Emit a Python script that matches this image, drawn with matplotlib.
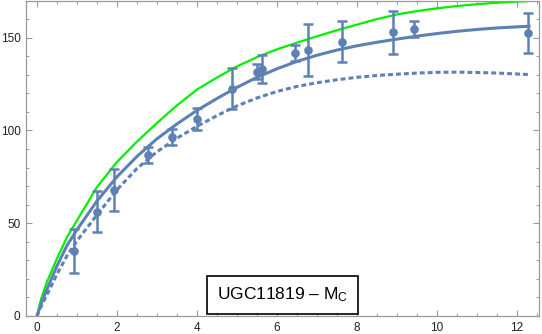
import matplotlib
matplotlib.use("Agg")
import matplotlib.pyplot as plt
from matplotlib.ticker import MultipleLocator

plt.rcParams['font.family'] = ['Liberation Sans', 'DejaVu Sans']
plt.rcParams['mathtext.fontset'] = 'custom'
plt.rcParams['mathtext.rm'] = 'Liberation Sans'
plt.rcParams['mathtext.it'] = 'Liberation Sans'

# observed data
r_obs = [0.925, 1.51, 1.92, 2.77, 3.37, 4.0, 4.88, 5.49, 5.62, 6.45, 6.78, 7.62, 8.91, 9.43, 12.28]
v_obs = [35.0, 56.3, 67.9, 86.8, 96.5, 106.0, 122.4, 131.7, 133.2, 141.6, 143.5, 147.8, 152.9, 154.7, 152.5]
v_err = [12.0, 10.8, 11.5, 4.3, 4.5, 6.0, 11.0, 4.2, 7.4, 4.3, 14.0, 11.2, 11.5, 4.2, 10.8]

# model curves
r_curve = [0.0, 0.1, 0.25, 0.5, 0.75, 1.0, 1.5, 2.0, 2.5, 3.0, 3.5, 4.0, 4.5, 5.0, 5.5,
           6.0, 6.5, 7.0, 7.5, 8.0, 8.5, 9.0, 9.5, 10.0, 10.5, 11.0, 11.5, 12.0, 12.3]
v_green = [0.0, 9.0, 18.5, 31.0, 42.5, 51.5, 69.5, 83.0, 94.0, 104.0, 113.5, 122.0, 128.5, 134.5, 139.5,
           143.7, 147.3, 150.7, 154.0, 157.0, 160.0, 162.5, 164.3, 165.8, 167.0, 168.0, 168.8, 169.4, 169.7]
v_fit = [0.0, 6.5, 14.5, 27.0, 38.0, 46.5, 62.0, 75.0, 86.0, 95.5, 103.5, 110.8, 117.2, 123.2, 128.6,
         133.2, 137.2, 140.5, 143.3, 145.6, 147.5, 149.2, 150.8, 152.2, 153.4, 154.4, 155.2, 155.8, 156.1]
v_dash = [0.0, 5.0, 11.5, 22.5, 32.5, 40.5, 54.5, 68.0, 79.5, 88.5, 95.8, 102.2, 108.0, 113.2, 117.5,
          121.0, 123.7, 125.7, 127.3, 128.6, 129.6, 130.3, 130.9, 131.3, 131.4, 131.2, 130.9, 130.4, 130.1]

label_main = "UGC11819 – M"
label_sub = "C"

blue = '#5E81B5'
green = '#00F000'
frame = '#9a9a9a'

fig = plt.figure(figsize=(5.42, 3.34), dpi=100)
ax = fig.add_axes([26/542, 18/334, 513/542, 315.5/334])

ax.plot(r_curve, v_green, color=green, lw=1.6, zorder=2, solid_capstyle='butt')
ax.plot(r_curve, v_fit, color=blue, lw=2.2, zorder=3)
ax.plot(r_curve, v_dash, color=blue, lw=2.2, ls=(0, (1.6, 1.0)), zorder=3)
ax.errorbar(r_obs, v_obs, yerr=v_err, fmt='o', color=blue, ms=5.2, elinewidth=1.8,
            capsize=3.5, capthick=1.8, zorder=4)

ax.set_xlim(-0.275, 12.55)
ax.set_ylim(0, 170)
ax.xaxis.set_major_locator(MultipleLocator(2))
ax.xaxis.set_minor_locator(MultipleLocator(0.5))
ax.yaxis.set_major_locator(MultipleLocator(50))
ax.yaxis.set_minor_locator(MultipleLocator(10))
ax.tick_params(which='both', direction='in', top=True, right=True, color=frame,
               labelsize=8.5, labelcolor='#222222')
ax.tick_params(which='major', length=4.5, width=0.8, pad=4)
ax.tick_params(which='minor', length=2.5, width=0.7)
for s in ax.spines.values():
    s.set_color(frame)
    s.set_linewidth(0.9)

ax.text(6.14, 11.5, label_main + r"$_{\mathrm{" + label_sub + r"}}$", fontsize=12.5,
        ha='center', va='center', zorder=5,
        bbox=dict(boxstyle='square,pad=0.55', fc='white', ec='black', lw=1.2))

fig.savefig('out.png', dpi=100)
